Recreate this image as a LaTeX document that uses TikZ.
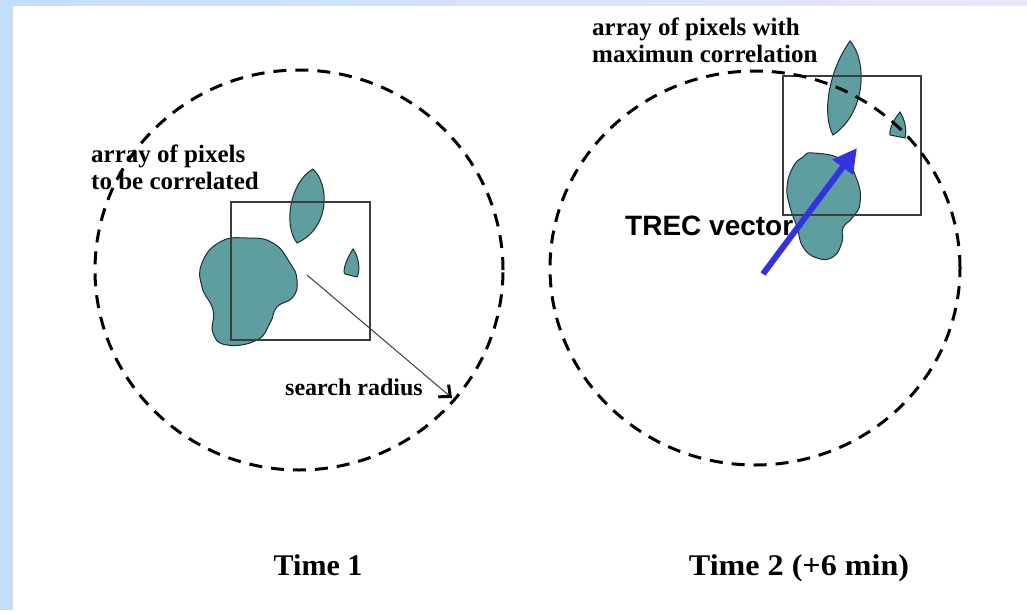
\documentclass[tikz,border=0pt]{standalone}
\usepackage{fontspec}
\setmainfont{Liberation Serif}
\newfontfamily\sansfam{Liberation Sans}
\usetikzlibrary{arrows.meta}
\definecolor{blobfill}{RGB}{95,158,160}
\definecolor{blobline}{RGB}{30,45,45}
\definecolor{boxline}{RGB}{60,60,60}
\definecolor{trecblue}{RGB}{50,50,222}
\definecolor{stripblue}{RGB}{195,222,250}
\definecolor{striplav}{RGB}{234,230,250}
\tikzset{
  blob/.style={fill=blobfill, draw=blobline, line width=1pt},
  winbox/.style={draw=boxline, line width=1.5pt, inner sep=0pt, fill=none},
  dashcircle/.style={draw=black, line width=3pt, dash pattern=on 13pt off 9pt},
  smalllabel/.style={inner sep=0pt, anchor=base west, font=\fontsize{25}{26}\selectfont\bfseries},
  timelabel/.style={inner sep=0pt, anchor=base, font=\fontsize{30}{32}\selectfont\bfseries},
  treclabel/.style={inner sep=0pt, anchor=base west, font=\sansfam\fontsize{28}{30}\selectfont\bfseries},
  radiusarrow/.style={draw=boxline, line width=1pt, -{Straight Barb[length=9pt,width=16pt,line width=3pt,color=black]}},
  trecarrow/.style={draw=trecblue, line width=6pt, -{Triangle[length=24pt,width=24pt]}}
}
\begin{document}
\begin{tikzpicture}[x=1pt,y=-1pt]
\useasboundingbox (0,0) rectangle (1027,610);
% background
\fill[white] (0,0) rectangle (1027,610);
\shade[left color=stripblue, right color=striplav] (0,0) rectangle (1027,6);
\fill[stripblue] (0,6) rectangle (13,610);

% ---- Time 1 panel ----
\draw[blob] plot[smooth cycle, tension=0.8] coordinates {(202,263) (220,242) (247,238) (273,243) (290,263) (297,280) (293,297) (277,307) (270,323) (257,340) (227,345) (213,333) (213,310) (202,287)};
\draw[blob] (313,169) .. controls (330,185) and (330,228) .. (297,243) .. controls (283,225) and (290,182) .. (313,169) -- cycle;
\draw[blob] (353,249) .. controls (358,255) and (361,270) .. (357,277) -- (345,274) .. controls (342,271) and (347,258) .. (353,249) -- cycle;
\node[winbox, minimum width=139pt, minimum height=138pt] (box1) at (300.5,271) {};

\node[smalllabel] (lab1a) at (91,162) {array of pixels};
\node[smalllabel] (lab1b) at (91,189) {to be correlated};
\node[smalllabel, font=\fontsize{24}{26}\selectfont\bfseries] (radlab) at (285,395) {search radius};

\draw[dashcircle] (299,270) ellipse [x radius=204pt, y radius=200pt];
\coordinate (c1) at (299,270);
\coordinate (sr0) at (307,275);
\coordinate (sr1) at (452,398);
\draw[radiusarrow] (sr0) -- (sr1);

\node[timelabel] (time1) at (318,575) {Time 1};

% ---- Time 2 panel ----
\draw[blob] plot[smooth cycle, tension=0.8] coordinates {(813,153) (843,160) (857,180) (860,203) (853,217) (843,228) (842,242) (833,257) (817,258) (803,247) (797,227) (790,207) (787,187) (793,167) (803,157)};
\draw[blob] (850,41) .. controls (867,60) and (867,112) .. (833,135) .. controls (822,115) and (828,72) .. (850,41) -- cycle;
\draw[blob] (900,112) .. controls (905,120) and (907,130) .. (905,138) -- (890,135) .. controls (889,128) and (895,118) .. (900,112) -- cycle;
\node[winbox, minimum width=138pt, minimum height=139pt] (box2) at (852,145.5) {};

\node[smalllabel] (lab2a) at (592,36) {array of pixels with};
\node[smalllabel] (lab2b) at (592,63) {maximun correlation};

\draw[dashcircle] (755,268) ellipse [x radius=205pt, y radius=197pt];

\node[treclabel] (treclab) at (625,235) {TREC vector};
\coordinate (tv0) at (763,274);
\coordinate (tv1) at (857,148);
\draw[trecarrow] (tv0) -- (tv1);

\node[timelabel, xscale=1.07, transform shape] (time2) at (799,575) {Time 2 (+6 min)};
\end{tikzpicture}
\end{document}
